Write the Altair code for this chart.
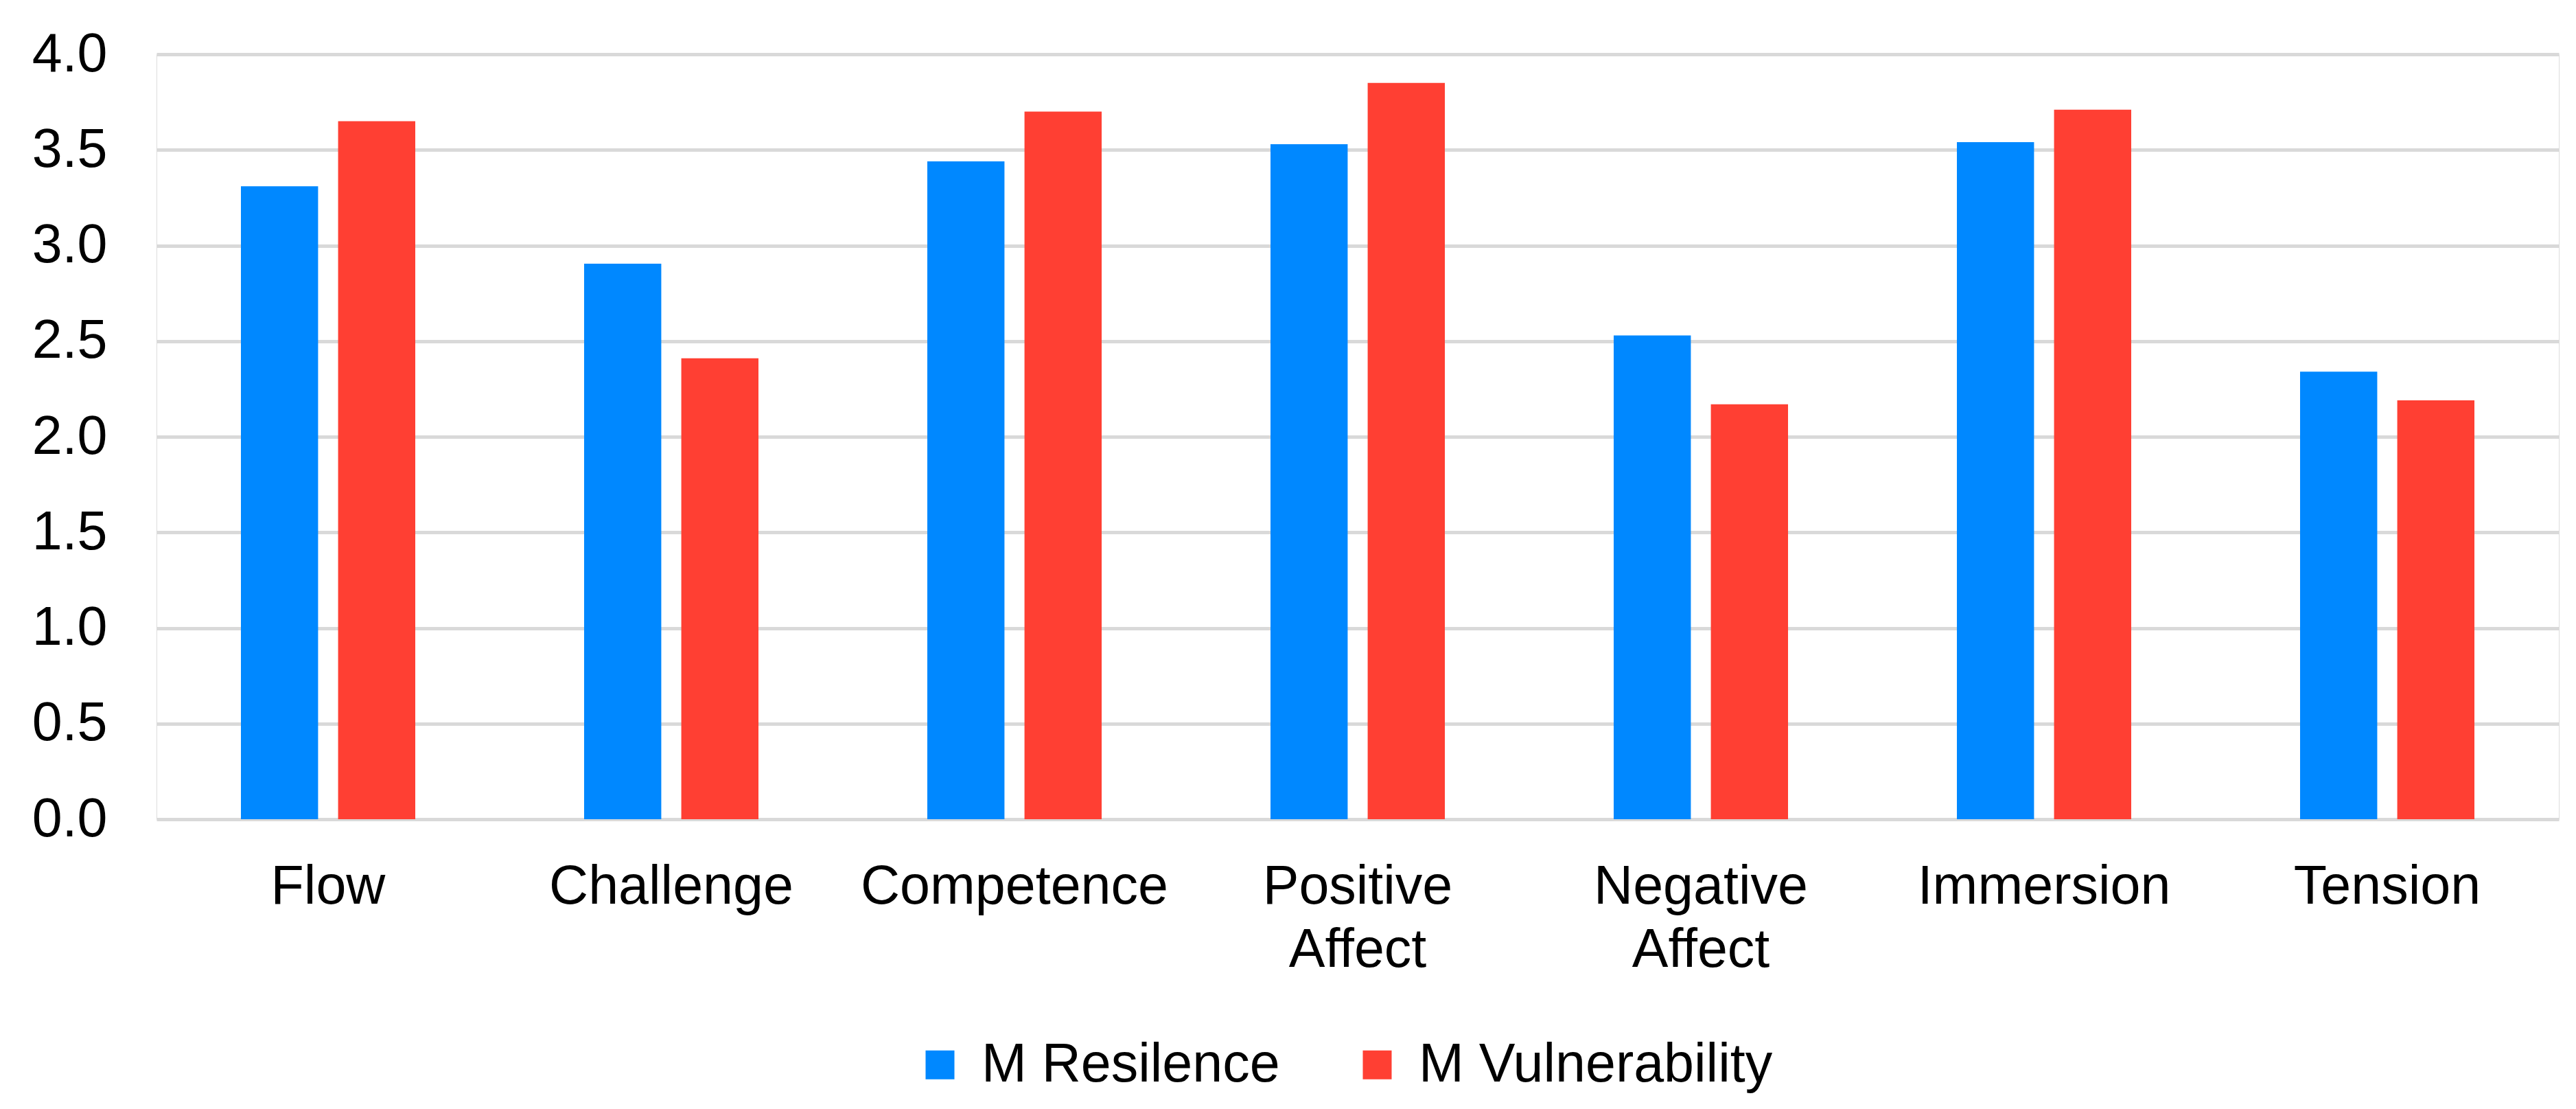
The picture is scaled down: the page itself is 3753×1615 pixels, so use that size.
import altair as alt
import pandas as pd

categories = ["Flow", "Challenge", "Competence", "Positive Affect",
              "Negative Affect", "Immersion", "Tension"]
series = ["M Resilence", "M Vulnerability"]
resilence = [3.31, 2.905, 3.44, 3.53, 2.53, 3.54, 2.34]
vulnerability = [3.65, 2.41, 3.70, 3.85, 2.17, 3.71, 2.19]
colors = ["#0088FF", "#FF3F33"]
y_ticks = [0.0, 0.5, 1.0, 1.5, 2.0, 2.5, 3.0, 3.5, 4.0]

rows = []
for c, r, v in zip(categories, resilence, vulnerability):
    rows.append({"category": c, "series": series[0], "value": r})
    rows.append({"category": c, "series": series[1], "value": v})
df = pd.DataFrame(rows)

FONT = "Liberation Sans"

chart = alt.Chart(df).mark_bar().encode(
    x=alt.X(
        "category:N",
        sort=categories,
        scale=alt.Scale(paddingInner=0.492, paddingOuter=0.246),
        axis=alt.Axis(
            title=None, labelAngle=0, labelFontSize=79, labelFont=FONT,
            labelColor="black", labelPadding=60, labelLineHeight=92,
            labelExpr="split(datum.label, ' ')", domain=False, ticks=False,
            tickSize=0, labelLimit=2000, labelOverlap=False,
        ),
    ),
    xOffset=alt.XOffset(
        "series:N", sort=series,
        scale=alt.Scale(paddingInner=0.206, paddingOuter=0),
    ),
    y=alt.Y(
        "value:Q",
        scale=alt.Scale(domain=[0, 4], nice=False, zero=True),
        axis=alt.Axis(
            title=None, values=y_ticks, format=".1f", labelFontSize=79,
            labelFont=FONT, labelColor="black", labelPadding=72,
            domain=False, ticks=False, tickSize=0, grid=True,
            gridColor="#D9D9D9", gridWidth=5, labelLimit=2000,
        ),
    ),
    color=alt.Color(
        "series:N", sort=series,
        scale=alt.Scale(domain=series, range=colors),
        legend=alt.Legend(
            title=None, orient="none", legendX=1102, legendY=1432,
            direction="horizontal", symbolType="square", symbolSize=1764,
            symbolStrokeWidth=0, labelFontSize=79, labelFont=FONT,
            labelColor="black", labelOffset=21, columnPadding=102,
            padding=0, labelLimit=2000,
        ),
    ),
).properties(
    width=3500,
    height=1114,
    autosize=alt.AutoSizeParams(type="none"),
    padding={"left": 220, "top": 71, "right": 17, "bottom": 414},
    background="white",
).configure_view(strokeWidth=0).configure(font=FONT)

chart.save("out.html", embed_options={"renderer": "svg", "actions": False})
